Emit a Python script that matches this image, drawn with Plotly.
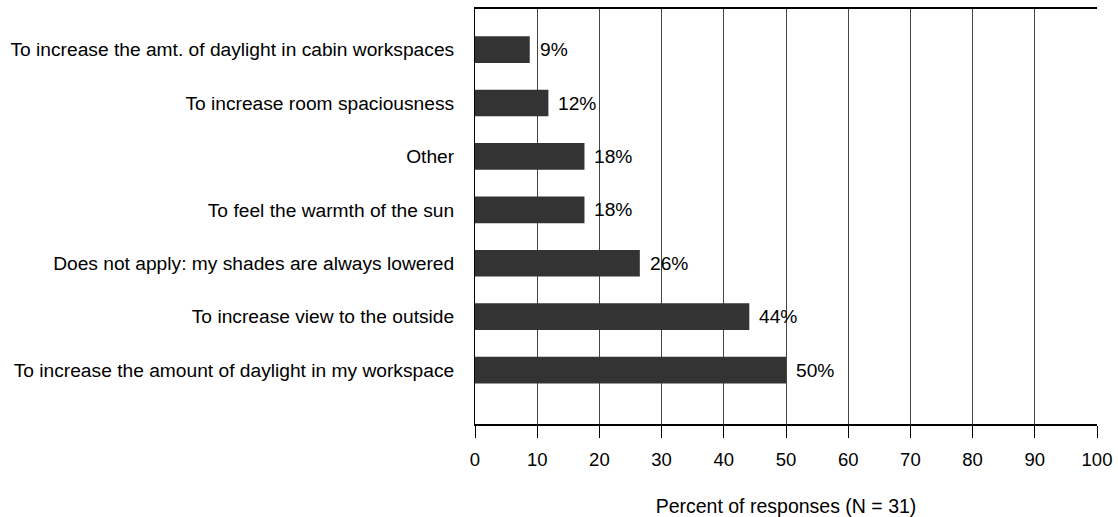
import plotly.graph_objects as go

categories = [
    "To increase the amount of daylight in my workspace",
    "To increase view to the outside",
    "Does not apply: my shades are always lowered",
    "To feel the warmth of the sun",
    "Other",
    "To increase room spaciousness",
    "To increase the amt. of daylight in cabin workspaces",
]
values = [50.0, 44.1, 26.5, 17.6, 17.6, 11.8, 8.8]
value_labels = ["50%", "44%", "26%", "18%", "18%", "12%", "9%"]
x_ticks = [0, 10, 20, 30, 40, 50, 60, 70, 80, 90, 100]

FONT = "Liberation Sans, Arial, Helvetica, sans-serif"

fig = go.Figure()
fig.add_trace(go.Bar(
    y=categories, x=values, orientation="h",
    marker=dict(color="#333333", line=dict(width=0)),
    width=0.5, hoverinfo="skip",
))
for c, v, t in zip(categories, values, value_labels):
    fig.add_annotation(x=v, y=c, text=t, showarrow=False, xanchor="left",
                       xshift=8, font=dict(family=FONT, size=19.2, color="black"))

fig.update_layout(
    width=1118, height=517,
    margin=dict(l=475, r=21, t=9, b=93),
    plot_bgcolor="white", paper_bgcolor="white",
    showlegend=False,
    font=dict(family=FONT, size=18, color="black"),
    xaxis=dict(range=[0, 100], tickvals=x_ticks, showgrid=True,
               gridcolor="#444444", gridwidth=1, showline=True, linecolor="black",
               linewidth=1.5, mirror=True, ticks="outside", ticklen=12,
               tickcolor="black", zeroline=False, tickfont=dict(size=18.5),
               automargin=False, ticklabelstandoff=6,
               title=dict(text="Percent of responses (N = 31)", standoff=33,
                          font=dict(size=19.5))),
    yaxis=dict(type="category", categoryorder="array", categoryarray=categories,
               range=[-1.01, 6.76], showgrid=False, showline=True, linecolor="black",
               linewidth=1, ticks="", ticklabelstandoff=16, zeroline=False,
               tickfont=dict(size=19.2), automargin=False),
)
fig.write_html("out.html", config={"displayModeBar": False},
               post_script="document.body.style.margin='0';")
